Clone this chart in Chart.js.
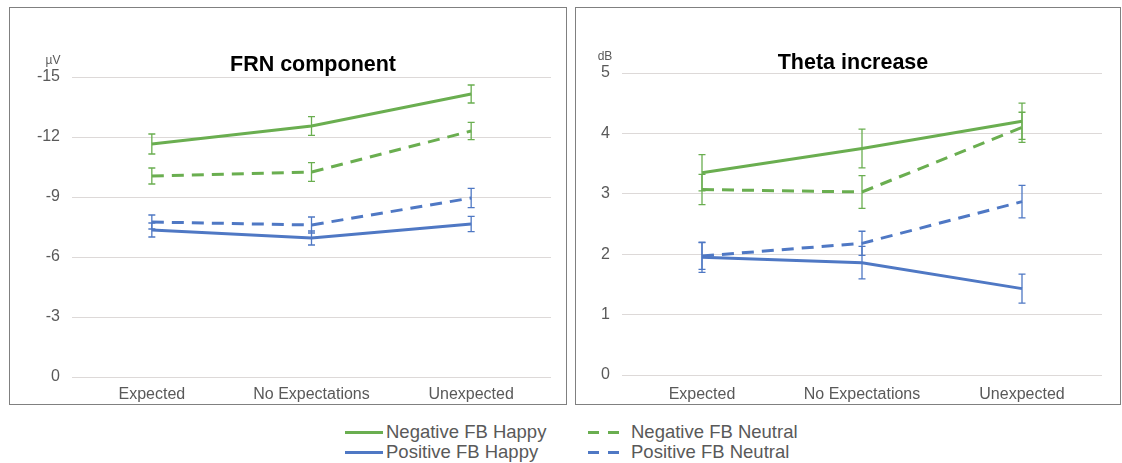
<!DOCTYPE html>
<html>
<head>
<meta charset="utf-8">
<script src="https://cdn.jsdelivr.net/npm/chart.js@4"></script>
<style>
  body { margin: 0; background: #fff; width: 1122px; height: 463px; position: relative; overflow: hidden;
         font-family: "Liberation Sans", Arial, sans-serif; }
  .panel { position: absolute; top: 7px; height: 398px; border: 1.5px solid #808080; box-sizing: border-box; }
  .panel canvas { position: absolute; left: 0; top: 0; }
  #legend { position: absolute; left: 0; top: 0; color: #595959; font-size: 18.5px; }
  .item { position: absolute; height: 20px; line-height: 20px; white-space: nowrap; }
  .swatch { position: absolute; top: 9px; height: 3px; }
  .item span.txt { position: absolute; }
</style>
</head>
<body>
<div class="panel" id="p1" style="left:9px;width:558px;"><canvas id="frnChart"></canvas></div>
<div class="panel" id="p2" style="left:575px;width:546px;"><canvas id="thetaChart"></canvas></div>
<div id="legend"></div>
<script>
// categories on the x axis
const categories = ['Expected', 'No Expectations', 'Unexpected'];

// FRN component (µV), plotted on a reversed axis
const frnNegHappy = [-11.65, -12.55, -14.15];
const frnNegHappyErr = [0.5, 0.47, 0.45];
const frnNegNeutral = [-10.05, -10.25, -12.3];
const frnNegNeutralErr = [0.4, 0.47, 0.43];
const frnPosHappy = [-7.35, -6.95, -7.65];
const frnPosHappyErr = [0.35, 0.35, 0.38];
const frnPosNeutral = [-7.75, -7.6, -8.95];
const frnPosNeutralErr = [0.35, 0.4, 0.48];
const frnTicks = [-15, -12, -9, -6, -3, 0];

// Theta increase (dB)
const thetaNegHappy = [3.35, 3.75, 4.2];
const thetaNegHappyErr = [0.3, 0.32, 0.3];
const thetaNegNeutral = [3.07, 3.03, 4.1];
const thetaNegNeutralErr = [0.25, 0.27, 0.25];
const thetaPosHappy = [1.95, 1.86, 1.43];
const thetaPosHappyErr = [0.25, 0.27, 0.24];
const thetaPosNeutral = [1.97, 2.18, 2.87];
const thetaPosNeutralErr = [0.22, 0.2, 0.27];
const thetaTicks = [0, 1, 2, 3, 4, 5];

const seriesNames = ['Negative FB Happy', 'Positive FB Happy', 'Negative FB Neutral', 'Positive FB Neutral'];

const GREEN = '#6aae50';
const BLUE = '#4f78c4';
const DASH = [12, 8];

Chart.defaults.font.family = '"Liberation Sans", Arial, sans-serif';
Chart.defaults.color = '#595959';

// draws the error bars from the dataset's errors array
const errorBars = {
    id: 'errorBars',
    afterDatasetsDraw(chart) {
        const c = chart.ctx;
        const x = chart.scales.x, y = chart.scales.y;
        chart.data.datasets.forEach(ds => {
            if (!ds.errors) return;
            c.save();
            c.strokeStyle = ds.borderColor;
            c.lineWidth = 1.3;
            ds.data.forEach((v, i) => {
                const px = x.getPixelForValue(i);
                const y1 = y.getPixelForValue(v - ds.errors[i]);
                const y2 = y.getPixelForValue(v + ds.errors[i]);
                c.beginPath();
                c.moveTo(px, y1); c.lineTo(px, y2);
                c.moveTo(px - 3.5, y1); c.lineTo(px + 3.5, y1);
                c.moveTo(px - 3.5, y2); c.lineTo(px + 3.5, y2);
                c.stroke();
            });
            c.restore();
        });
    }
};

// title and unit label in the top space
const panelText = {
    id: 'panelText',
    afterDraw(chart, args, opts) {
        const c = chart.ctx;
        c.save();
        c.fillStyle = '#000';
        c.font = 'bold 21.5px "Liberation Sans", Arial, sans-serif';
        c.textAlign = 'center';
        c.textBaseline = 'middle';
        c.fillText(opts.title, opts.titleX, opts.titleY);
        c.fillStyle = '#595959';
        c.font = '12px "Liberation Sans", Arial, sans-serif';
        c.fillText(opts.unit, opts.unitX, opts.unitY);
        c.restore();
    }
};

function makeDatasets(negHappy, negHappyErr, negNeutral, negNeutralErr, posHappy, posHappyErr, posNeutral, posNeutralErr) {
    const base = { pointRadius: 0, borderWidth: 3, fill: false, tension: 0 };
    return [
        { ...base, label: seriesNames[3], data: posNeutral, errors: posNeutralErr, borderColor: BLUE, borderDash: DASH },
        { ...base, label: seriesNames[1], data: posHappy, errors: posHappyErr, borderColor: BLUE },
        { ...base, label: seriesNames[2], data: negNeutral, errors: negNeutralErr, borderColor: GREEN, borderDash: DASH },
        { ...base, label: seriesNames[0], data: negHappy, errors: negHappyErr, borderColor: GREEN }
    ];
}

function renderPanel(id, w, datasets, yOpts, pad, yWidth, xHeight, xPad, text) {
    const canvas = document.getElementById(id);
    canvas.width = w; canvas.height = 395;
    canvas.style.width = w + 'px'; canvas.style.height = '395px';
    return new Chart(canvas.getContext('2d'), {
        type: 'line',
        data: { labels: categories, datasets: datasets },
        plugins: [errorBars, panelText],
        options: {
            responsive: false,
            animation: false,
            layout: { padding: pad },
            plugins: { legend: { display: false }, title: { display: false }, tooltip: { enabled: false }, panelText: text },
            scales: {
                x: {
                    offset: true,
                    grid: { display: false },
                    border: { display: false },
                    ticks: { font: { size: 16 }, padding: xPad, maxRotation: 0 },
                    afterFit: s => { s.height = xHeight; }
                },
                y: Object.assign({
                    grid: { color: '#ddd9d8', lineWidth: 1, drawTicks: false },
                    border: { display: false },
                    afterFit: s => { s.width = yWidth; }
                }, yOpts)
            }
        }
    });
}

renderPanel('frnChart', 555,
    makeDatasets(frnNegHappy, frnNegHappyErr, frnNegNeutral, frnNegNeutralErr, frnPosHappy, frnPosHappyErr, frnPosNeutral, frnPosNeutralErr),
    {
        min: frnTicks[0], max: frnTicks[frnTicks.length - 1], reverse: true,
        afterBuildTicks: s => { s.ticks = frnTicks.map(v => ({ value: v })); },
        ticks: { font: { size: 16 }, padding: 12 }
    },
    { left: 0, right: 14, top: 69, bottom: 0 }, 62, 26, 0,
    { title: 'FRN component', titleX: 303, titleY: 57, unit: 'µV', unitX: 43, unitY: 53 });

renderPanel('thetaChart', 543,
    makeDatasets(thetaNegHappy, thetaNegHappyErr, thetaNegNeutral, thetaNegNeutralErr, thetaPosHappy, thetaPosHappyErr, thetaPosNeutral, thetaPosNeutralErr),
    {
        min: thetaTicks[0], max: thetaTicks[thetaTicks.length - 1],
        afterBuildTicks: s => { s.ticks = thetaTicks.map(v => ({ value: v })); },
        ticks: { font: { size: 16 }, padding: 12 }
    },
    { left: 0, right: 17, top: 65, bottom: 0 }, 46, 28, 2,
    { title: 'Theta increase', titleX: 277, titleY: 55, unit: 'dB', unitX: 29, unitY: 49 });

// legend below the panels
const legendItems = [
    { name: seriesNames[0], color: GREEN, dashed: false, x: 345, y: 422 },
    { name: seriesNames[2], color: GREEN, dashed: true, x: 588, y: 422 },
    { name: seriesNames[1], color: BLUE, dashed: false, x: 345, y: 442 },
    { name: seriesNames[3], color: BLUE, dashed: true, x: 588, y: 442 }
];
const legend = document.getElementById('legend');
legendItems.forEach(it => {
    const d = document.createElement('div');
    d.className = 'item';
    d.style.left = it.x + 'px';
    d.style.top = it.y + 'px';
    const sw = document.createElement('div');
    sw.className = 'swatch';
    if (it.dashed) {
        sw.style.left = '0px'; sw.style.width = '31px';
        sw.style.background = `repeating-linear-gradient(90deg, ${it.color} 0 11px, transparent 11px 20px)`;
    } else {
        sw.style.left = '0px'; sw.style.width = '38px';
        sw.style.background = it.color;
    }
    const t = document.createElement('span');
    t.className = 'txt';
    t.style.left = (it.dashed ? 43 : 41) + 'px';
    t.textContent = it.name;
    d.appendChild(sw); d.appendChild(t);
    legend.appendChild(d);
});
</script>
</body>
</html>
